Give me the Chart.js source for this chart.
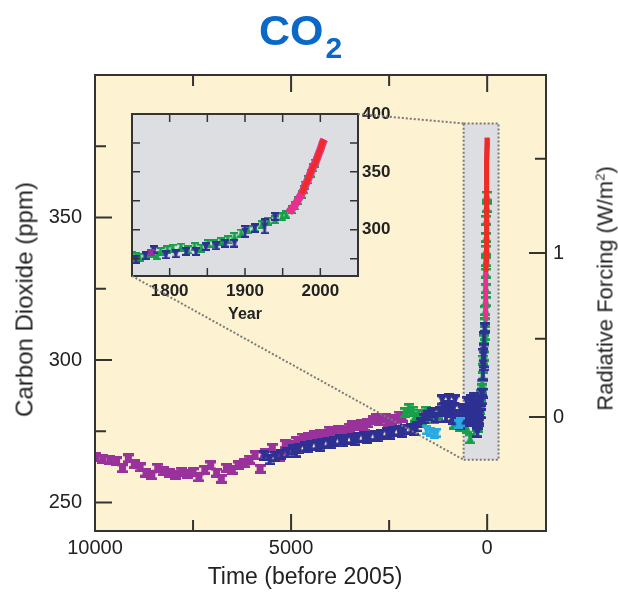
<!DOCTYPE html>
<html>
<head>
<meta charset="utf-8">
<script src="https://cdn.jsdelivr.net/npm/chart.js@4.4.1/dist/chart.umd.min.js"></script>
<style>
body { margin: 0; background: #fff; }
#wrap { position: relative; width: 618px; height: 592px; font-family: "Liberation Sans", Arial, sans-serif; color: #222; }
#wrap canvas { position: absolute; left: 0; top: 0; }
.lbl { position: absolute; white-space: nowrap; text-align: center; }
.axt { width: 300px; height: 27px; font-size: 23px; line-height: 27px; }
</style>
</head>
<body>
<div id="wrap">
  <canvas id="main" width="618" height="592"></canvas>
  <canvas id="inset" width="618" height="592"></canvas>
  <div class="lbl" style="left:259px; top:9px; font:bold 43px/43px 'Liberation Sans', Arial, sans-serif; color:#0A68C8;">CO<span style="font-size:30px; position:relative; top:13px; margin-left:2px;">2</span></div>
  <div class="lbl axt" style="left:-126px; top:286px; font-size:24px; transform:rotate(-90deg);">Carbon Dioxide (ppm)</div>
  <div class="lbl axt" style="left:155px; top:563px;">Time (before 2005)</div>
  <div class="lbl axt" style="left:455px; top:275px; font-size:22px; transform:rotate(-90deg);">Radiative Forcing (W/m<sup style="font-size:13px; line-height:0;">2</sup>)</div>
</div>
<script>
// ---- axis ticks ----
var ppmTicks = [250, 275, 300, 325, 350, 375];
var ppmLabels = [250, 300, 350];
var timeTicks = [0, 2500, 5000, 7500, 10000];
var timeLabels = [10000, 5000, 0];
var forcingTicks = [0, 0.5, 1, 1.5];
var forcingLabels = [0, 1];
var insetYearTicks = [1800, 1850, 1900, 1950, 2000];
var insetYearLabels = [1800, 1900, 2000];
var insetPpmTicks = [275, 300, 325, 350, 375, 400];
var insetPpmLabels = [300, 350, 400];

// radiative forcing relation used for the right axis
var refPpm = 280;
var forcingCoef = 5.35;
var baseYear = 2005;

// zoomed region shown in the inset (time before 2005, ppm)
var zoomT = [600, -290];
var zoomC = [265, 383];

// ---- data: time before 2005 ----
var purpleT = [9980, 9800, 9620, 9450, 9300, 9150, 9000, 8850, 8700, 8550, 8400, 8250, 8100, 7950, 7800, 7650, 7500, 7350, 7200, 7050, 6900, 6780, 6650, 6500, 6350, 6200, 6050, 5920, 5790, 5650, 5480, 5300, 5150, 5000, 4850, 4700, 4550, 4400, 4250, 4100, 3950, 3800, 3650, 3500, 3350, 3200, 3050, 2900, 2750, 2600, 2450, 2300, 2150, 1600, 230,
    4925, 4625, 4325, 4025, 3725, 3425, 3125, 2825, 2525, 2225];
var purpleC = [265.8, 265.2, 265.0, 264.5, 262.0, 265.5, 263.5, 262.3, 260.5, 259.5, 262.2, 261.0, 260.3, 259.8, 260.8, 260.0, 260.6, 258.8, 261.5, 263.0, 260.5, 258.3, 262.2, 261.5, 263.0, 263.8, 265.0, 266.5, 261.8, 267.3, 269.2, 266.0, 270.5, 270.2, 271.5, 272.8, 273.0, 273.8, 274.2, 274.0, 275.0, 275.6, 275.2, 276.2, 276.8, 277.6, 277.8, 278.8, 278.5, 279.6, 279.0, 279.3, 279.8, 281.0, 280.3,
    269.0, 271.8, 272.5, 275.2, 274.5, 277.2, 276.5, 279.5, 278.2, 280.5];

var blueT = [5700, 5550, 5400, 5250, 5100, 4950, 4800, 4650, 4500, 4350, 4200, 4050, 3900, 3750, 3600, 3450, 3300, 3150, 3000, 2850, 2700, 2550, 2400, 2250, 2100, 1950, 1800, 1700, 1600, 1500, 1400, 1300, 1200, 1100, 1000, 950, 900, 850, 800, 750, 700, 650, 600, 550, 500, 450, 400, 350, 300, 1150, 1050, 980, 880, 820, 680, 620, 520, 470, 420, 380, 330, 280,
    4875, 4575, 4275, 3975, 3675, 3375, 3075, 2775, 2475, 2175, 1875];
var blueC = [266.5, 265.0, 266.2, 267.0, 267.5, 268.5, 268.8, 269.6, 270.0, 270.3, 270.6, 271.2, 271.5, 272.0, 272.2, 272.4, 272.8, 273.0, 273.3, 273.5, 274.0, 274.6, 274.8, 275.2, 275.6, 276.0, 276.5, 278.0, 279.5, 280.5, 281.5, 279.8, 282.0, 283.5, 284.0, 281.5, 282.8, 283.5, 281.0, 279.0, 277.5, 280.5, 281.5, 280.0, 282.0, 283.0, 281.0, 283.5, 284.5, 286.0, 280.0, 286.5, 279.0, 286.0, 283.0, 278.5, 285.5, 279.0, 286.0, 278.5, 287.0, 279.5,
    267.6, 269.2, 269.8, 270.6, 271.3, 271.8, 272.6, 273.0, 274.0, 274.7, 275.4];

var greenT = [2100, 2000, 1900, 1850, 1750, 1650, 1550, 1450, 1350, 1250, 1150, 1050, 850, 700, 600, 520, 434, 350];
var greenC = [281.5, 283.0, 282.0, 280.0, 281.0, 279.0, 282.0, 280.5, 279.5, 281.0, 282.5, 283.0, 277.5, 276.5, 277.0, 276.0, 272.3, 279.0];

var cyanT = [1550, 1450, 1350, 1280, 740, 690];
var cyanC = [275.5, 274.8, 274.0, 274.5, 277.6, 278.2];

// ---- data: calendar years (inset, also shown in the main panel) ----
var greenYears = [1750, 1755, 1760, 1768, 1777, 1783, 1788, 1797, 1804, 1815, 1824, 1833, 1842, 1851, 1859, 1868, 1877, 1886, 1895, 1904, 1913, 1922, 1931, 1940, 1949, 1955, 1962, 1966, 1970, 1975, 1978, 1980, 1983, 1987, 1990, 1993];
var greenYearC = [277.4, 276.8, 276.3, 278.0, 279.7, 277.5, 281.2, 282.6, 284.0, 285.0, 282.6, 285.5, 284.1, 288.0, 287.8, 289.9, 291.3, 294.2, 297.1, 300.0, 301.4, 304.3, 307.2, 308.6, 311.0, 313.0, 317.3, 320.5, 325.0, 330.5, 334.5, 338.5, 343.0, 349.0, 353.5, 357.5];

var blueYears = [1755, 1768, 1779, 1795, 1808, 1822, 1835, 1848, 1862, 1874, 1886, 1900, 1913, 1926, 1940];
var blueYearC = [274.6, 277.4, 282.6, 278.3, 279.2, 281.2, 281.2, 285.5, 286.1, 288.4, 288.4, 298.5, 301.5, 303.0, 311.5];
var blueYearErr = [1.2, 1.2, 3.0, 1.2, 1.2, 1.2, 1.5, 1.2, 1.2, 1.2, 1.2, 5.8, 4.4, 7.0, 1.5];

var pinkYears = [1958, 1960, 1962, 1965, 1968, 1970, 1972, 1975, 1978, 1980, 1983, 1985, 1988, 1990, 1993, 1995, 1998, 2000, 2003, 2005];
var pinkC = [314.5, 316.5, 318.0, 320.0, 323.0, 325.5, 327.5, 331.0, 335.0, 338.5, 342.5, 345.5, 350.5, 354.0, 357.0, 360.5, 366.0, 369.0, 375.0, 378.0];
var redYears = [1975, 1978, 1980, 1983, 1985, 1988, 1990, 1993, 1995, 1998, 2000, 2003, 2005];
var redC = [331.0, 335.0, 338.5, 342.5, 345.5, 350.5, 354.0, 357.0, 360.5, 366.0, 369.5, 375.5, 378.0];

// ---- colours ----
var cream = '#FDF2D2';
var panelGrey = '#DCDEE2';
var cPurple = '#9A329B';
var cBlue = '#2E3192';
var cGreen = '#17A04A';
var cCyan = '#28ABE3';
var cRed = '#EE2B24';
var cPink = '#E8318E';
var frameColor = '#333';

Chart.defaults.font.family = '"Liberation Sans", Arial, sans-serif';
Chart.defaults.color = '#222';

// marker with error bar, drawn once per size and reused as pointStyle
var glyphCache = {};
function glyph(color, shape, w, h) {
    var s = Math.round(w * (shape === 'square' ? 0.65 : 0.85));
    var H = Math.max(Math.round(h), s + 2);
    var key = [color, shape, w, H].join('|');
    if (glyphCache[key]) return glyphCache[key];
    var c = document.createElement('canvas');
    c.width = w; c.height = H;
    var g = c.getContext('2d');
    g.fillStyle = color;
    var cap = Math.max(2, w / 3.6);
    var stem = Math.max(2, w / 2.8);
    g.fillRect(0, 0, w, cap);
    g.fillRect(0, H - cap, w, cap);
    g.fillRect((w - stem) / 2, 0, stem, H);
    var cx = w / 2, cy = H / 2;
    g.beginPath();
    if (shape === 'square') {
        g.rect(cx - s / 2, cy - s / 2, s, s);
    } else if (shape === 'up') {
        g.moveTo(cx, cy - s / 2); g.lineTo(cx + s / 2, cy + s / 2); g.lineTo(cx - s / 2, cy + s / 2);
    } else {
        g.moveTo(cx, cy + s / 2); g.lineTo(cx + s / 2, cy - s / 2); g.lineTo(cx - s / 2, cy - s / 2);
    }
    g.closePath();
    g.fill();
    glyphCache[key] = c;
    return c;
}

function errGlyph(color, shape, w, defErr) {
    return function(ctx) {
        var e = (ctx.raw && ctx.raw.e) || defErr;
        var ys = ctx.chart.scales.y;
        var h = Math.abs(ys.getPixelForValue(300) - ys.getPixelForValue(300 + e)) * 2;
        return glyph(color, shape, w, h);
    };
}

function pts(xs, ys, errs) {
    return xs.map(function(x, i) { return {x: x, y: ys[i], e: errs ? errs[i] : null}; });
}
function toT(years) { return years.map(function(y) { return baseYear - y; }); }

// background fill of the plot area
var areaFill = {
    id: 'areaFill',
    beforeDraw: function(chart, args, o) {
        var a = chart.chartArea, ctx = chart.ctx;
        ctx.save();
        ctx.fillStyle = o.color;
        ctx.fillRect(a.left, a.top, a.right - a.left, a.bottom - a.top);
        ctx.restore();
    }
};

// inward tick marks on all four sides and the frame
var frameTicks = {
    id: 'frameTicks',
    afterDraw: function(chart, args, o) {
        var ctx = chart.ctx, a = chart.chartArea;
        var xs = chart.scales.x, ls = chart.scales[o.left], rs = chart.scales[o.right];
        ctx.save();
        ctx.strokeStyle = frameColor;
        ctx.lineWidth = o.width;
        ctx.beginPath();
        xs.ticks.forEach(function(t) {
            var p = xs.getPixelForValue(t.value), len = t.label ? o.major : o.minor;
            ctx.moveTo(p, a.bottom); ctx.lineTo(p, a.bottom - len);
            ctx.moveTo(p, a.top); ctx.lineTo(p, a.top + len);
        });
        ls.ticks.forEach(function(t) {
            var p = ls.getPixelForValue(t.value), len = t.label ? o.major : o.minor;
            ctx.moveTo(a.left, p); ctx.lineTo(a.left + len, p);
        });
        rs.ticks.forEach(function(t) {
            var p = rs.getPixelForValue(t.value), len = t.label ? o.major : o.minor;
            ctx.moveTo(a.right, p); ctx.lineTo(a.right - len, p);
        });
        ctx.stroke();
        ctx.lineWidth = o.frame;
        ctx.strokeRect(a.left, a.top, a.right - a.left, a.bottom - a.top);
        ctx.restore();
    }
};

// grey box marking the zoomed period
var zoomBox = {
    id: 'zoomBox',
    beforeDatasetsDraw: function(chart) {
        var ctx = chart.ctx, xs = chart.scales.x, ys = chart.scales.y;
        var x1 = xs.getPixelForValue(zoomT[0]), x2 = xs.getPixelForValue(zoomT[1]);
        var y1 = ys.getPixelForValue(zoomC[1]), y2 = ys.getPixelForValue(zoomC[0]);
        ctx.save();
        ctx.fillStyle = panelGrey;
        ctx.fillRect(x1, y1, x2 - x1, y2 - y1);
        ctx.setLineDash([2, 2]);
        ctx.lineWidth = 2;
        ctx.strokeStyle = '#7a7a7a';
        ctx.strokeRect(x1, y1, x2 - x1, y2 - y1);
        ctx.restore();
    }
};

function fixedTicks(values) {
    return function(scale) {
        scale.ticks = values.map(function(v) { return {value: v}; });
    };
}

var mainPurple = pts(purpleT, purpleC);
var mainBlue = pts(blueT, blueC).concat(pts(toT(blueYears), blueYearC, blueYearErr));
var mainGreen = pts(greenT, greenC).concat(pts(toT(greenYears), greenYearC));

var mainChart = new Chart(document.getElementById('main'), {
    type: 'scatter',
    data: {
        datasets: [
            {label: 'Mauna Loa', data: pts(toT(redYears), redC), showLine: true, borderColor: cRed, borderWidth: 5, pointRadius: 0, order: 0},
            {label: 'South Pole', data: pts(toT(pinkYears), pinkC), showLine: true, borderColor: cPink, borderWidth: 5, pointRadius: 0, order: 1},
            {label: 'cyan', data: pts(cyanT, cyanC), pointStyle: errGlyph(cCyan, 'down', 9, 1.0), pointRadius: 3, order: 2},
            {label: 'blue', data: mainBlue, pointStyle: errGlyph(cBlue, 'down', 10, 1.4), pointRadius: 3, order: 3},
            {label: 'green', data: mainGreen, pointStyle: errGlyph(cGreen, 'up', 10, 1.4), pointRadius: 3, order: 4},
            {label: 'purple', data: mainPurple, pointStyle: errGlyph(cPurple, 'square', 11, 1.8), pointRadius: 3, order: 5}
        ]
    },
    options: {
        responsive: false,
        animation: false,
        events: [],
        layout: {padding: {top: 75, left: 0, right: 0, bottom: 0}},
        plugins: {
            legend: {display: false},
            tooltip: {enabled: false},
            areaFill: {color: cream},
            frameTicks: {left: 'y', right: 'y2', major: 17, minor: 11, width: 2, frame: 2}
        },
        scales: {
            x: {
                type: 'linear', reverse: true, min: -1500, max: 10000,
                grid: {display: false, drawTicks: false}, border: {display: false},
                afterBuildTicks: fixedTicks(timeTicks),
                afterFit: function(s) { s.height = 61; },
                ticks: {autoSkip: false, maxRotation: 0, padding: 5, font: {size: 20},
                    callback: function(v) { return timeLabels.indexOf(v) >= 0 ? String(v) : ''; }}
            },
            y: {
                type: 'linear', position: 'left', min: 240, max: 400,
                grid: {display: false, drawTicks: false}, border: {display: false},
                afterBuildTicks: fixedTicks(ppmTicks),
                afterFit: function(s) { s.width = 95; },
                ticks: {autoSkip: false, padding: 13, font: {size: 20},
                    callback: function(v) { return ppmLabels.indexOf(v) >= 0 ? String(v) : ''; }}
            },
            y2: {
                type: 'linear', position: 'right', min: 240, max: 400,
                grid: {display: false, drawTicks: false}, border: {display: false},
                afterBuildTicks: fixedTicks(forcingTicks.map(function(f) { return refPpm * Math.exp(f / forcingCoef); })),
                afterFit: function(s) { s.width = 72; },
                ticks: {autoSkip: false, padding: 7, font: {size: 20},
                    callback: function(v, i) { return forcingLabels.indexOf(forcingTicks[i]) >= 0 ? String(forcingTicks[i]) : ''; }}
            }
        }
    },
    plugins: [areaFill, zoomBox, frameTicks]
});

// dotted connectors from the inset to the grey box
var connectors = {
    id: 'connectors',
    afterDraw: function(chart) {
        var ctx = chart.ctx, a = chart.chartArea;
        var xs = mainChart.scales.x, ys = mainChart.scales.y;
        var bx = xs.getPixelForValue(zoomT[0]);
        ctx.save();
        ctx.setLineDash([2, 2]);
        ctx.lineWidth = 2;
        ctx.strokeStyle = '#7a7a7a';
        ctx.beginPath();
        ctx.moveTo(a.right, a.top); ctx.lineTo(bx, ys.getPixelForValue(zoomC[1]));
        ctx.moveTo(a.left, a.bottom); ctx.lineTo(bx, ys.getPixelForValue(zoomC[0]));
        ctx.stroke();
        ctx.restore();
    }
};

var insetPurple = mainPurple.filter(function(p) { return p.x <= baseYear - 1750; })
    .map(function(p) { return {x: baseYear - p.x, y: p.y}; });

new Chart(document.getElementById('inset'), {
    type: 'scatter',
    data: {
        datasets: [
            {label: 'Mauna Loa', data: pts(redYears, redC), showLine: true, borderColor: cRed, borderWidth: 5, pointRadius: 0, order: 0},
            {label: 'South Pole', data: pts(pinkYears, pinkC), showLine: true, borderColor: cPink, borderWidth: 8, pointRadius: 0, order: 1},
            {label: 'blue', data: pts(blueYears, blueYearC, blueYearErr), pointStyle: errGlyph(cBlue, 'down', 8, 1.2), pointRadius: 3, order: 3},
            {label: 'green', data: pts(greenYears, greenYearC), pointStyle: errGlyph(cGreen, 'up', 8, 1.0), pointRadius: 3, order: 4},
            {label: 'purple', data: insetPurple, pointStyle: errGlyph(cPurple, 'square', 8, 1.5), pointRadius: 3, order: 2}
        ]
    },
    options: {
        responsive: false,
        animation: false,
        events: [],
        layout: {padding: {top: 114, left: 132, right: 220, bottom: 266}},
        plugins: {
            legend: {display: false},
            tooltip: {enabled: false},
            areaFill: {color: panelGrey},
            frameTicks: {left: 'y', right: 'y', major: 8, minor: 8, width: 1.5, frame: 2}
        },
        scales: {
            x: {
                type: 'linear', min: 1750, max: 2050,
                grid: {display: false, drawTicks: false}, border: {display: false},
                afterBuildTicks: fixedTicks(insetYearTicks),
                afterFit: function(s) { s.height = 50; },
                title: {display: true, text: 'Year', font: {size: 16, weight: 'bold'}, padding: {top: 0, bottom: 2}},
                ticks: {autoSkip: false, maxRotation: 0, padding: 5, font: {size: 17, weight: 'bold'},
                    callback: function(v) { return insetYearLabels.indexOf(v) >= 0 ? String(v) : ''; }}
            },
            y: {
                type: 'linear', position: 'right', min: 260, max: 400,
                grid: {display: false, drawTicks: false}, border: {display: false},
                afterBuildTicks: fixedTicks(insetPpmTicks),
                afterFit: function(s) { s.width = 40; },
                ticks: {autoSkip: false, padding: 4, font: {size: 17, weight: 'bold'},
                    callback: function(v) { return insetPpmLabels.indexOf(v) >= 0 ? String(v) : ''; }}
            }
        }
    },
    plugins: [areaFill, frameTicks, connectors]
});
</script>
</body>
</html>
